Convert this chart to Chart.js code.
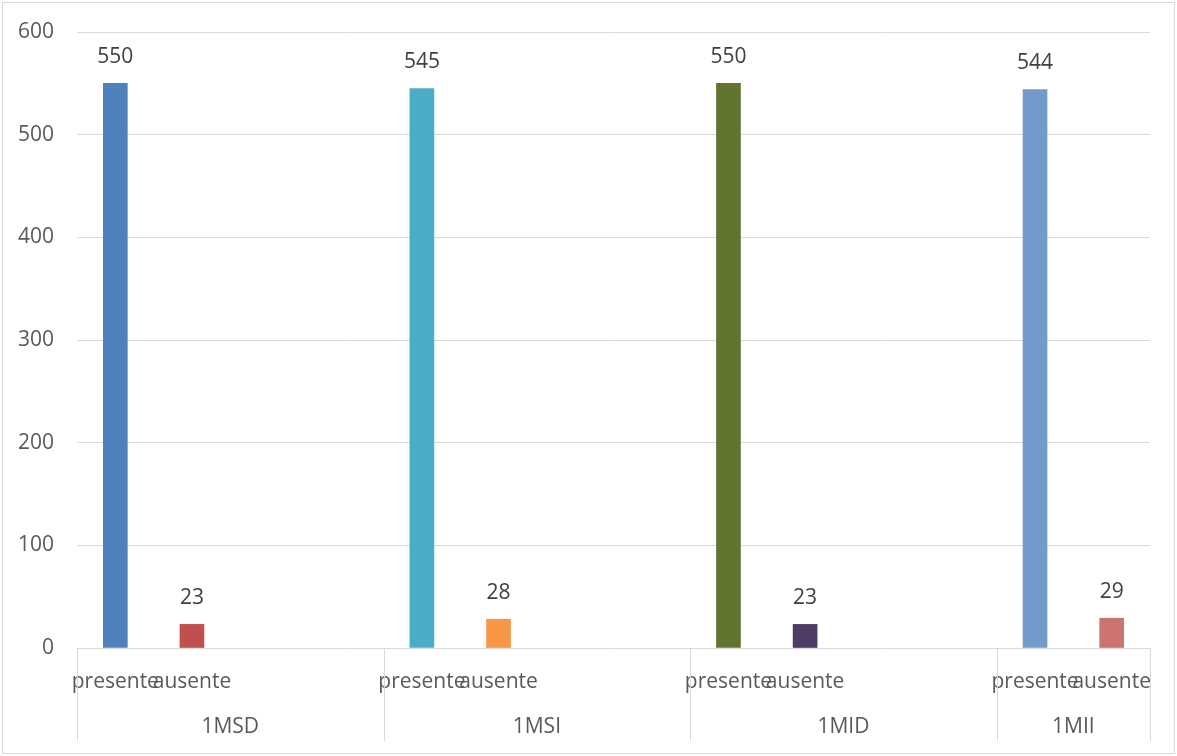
<!DOCTYPE html>
<html>
<head>
<meta charset="utf-8">
<script src="https://cdn.jsdelivr.net/npm/chart.js@4/dist/chart.umd.min.js"></script>
<style>
  html, body { margin: 0; padding: 0; background: #fff; }
  #wrap { width: 1177px; height: 756px; position: relative; }
</style>
</head>
<body>
<div id="wrap"><canvas id="c" width="1177" height="756"></canvas></div>
<script>
// Classes (outer category level) and how many slots each one occupies on the axis
const groups = ['1MSD', '1MSI', '1MID', '1MII'];
const groupSlots = [4, 4, 4, 2];
// Attendance counts per class
const presente = [550, 545, 550, 544];
const ausente = [23, 28, 23, 29];
// Inner category labels
const subLabels = ['presente', 'ausente'];
// Bar colours, one pair per class
const presenteColors = ['#4F81BD', '#4BACC6', '#617430', '#729ACA'];
const ausenteColors = ['#C0504D', '#F79646', '#4E3B66', '#CD7371'];
// Value axis ticks
const yTicks = [0, 100, 200, 300, 400, 500, 600];

// Flatten into axis slots: presente, ausente, then empty slots
const labels = [], values = [], colors = [];
groups.forEach((g, gi) => {
  for (let s = 0; s < groupSlots[gi]; s++) {
    if (s === 0) { labels.push(subLabels[0]); values.push(presente[gi]); colors.push(presenteColors[gi]); }
    else if (s === 1) { labels.push(subLabels[1]); values.push(ausente[gi]); colors.push(ausenteColors[gi]); }
    else { labels.push(''); values.push(null); colors.push('rgba(0,0,0,0)'); }
  }
});

const FONT = '"Open Sans", "DejaVu Sans", sans-serif';
const FSIZE = 21;
const PLOT_TOP = 32;

// Pin the plot area's top edge so the 600 gridline sits at a fixed height
const pinTop = {
  id: 'pinTop',
  afterLayout(chart) {
    const y = chart.scales.y;
    if (Math.abs(y.top - PLOT_TOP) > 0.1) {
      y.top = PLOT_TOP;
      y.height = y.bottom - y.top;
      chart.chartArea.top = PLOT_TOP;
      chart.chartArea.height = chart.chartArea.bottom - PLOT_TOP;
      y.configure();
    }
  }
};

const decorations = {
  id: 'decorations',
  afterDatasetsDraw(chart) {
    const ctx = chart.ctx;
    const x = chart.scales.x, area = chart.chartArea;
    const meta = chart.getDatasetMeta(0);
    ctx.save();
    // value labels above bars
    ctx.font = FSIZE + 'px ' + FONT;
    ctx.fillStyle = '#404040';
    ctx.textAlign = 'center';
    ctx.textBaseline = 'middle';
    meta.data.forEach((bar, i) => {
      const v = values[i];
      if (v == null) return;
      ctx.fillText(String(v), bar.x, bar.y - 26);
    });
    // group separators and group labels
    const step = x.getPixelForValue(1) - x.getPixelForValue(0);
    const bounds = [area.left];
    let idx = 0;
    groupSlots.forEach((n, gi) => {
      idx += n;
      bounds.push(gi === groupSlots.length - 1 ? area.right : x.getPixelForValue(idx) - step / 2);
    });
    ctx.strokeStyle = '#D9D9D9';
    ctx.lineWidth = 1;
    bounds.forEach(b => {
      const bx = Math.round(b) + 0.5;
      ctx.beginPath();
      ctx.moveTo(bx, area.bottom);
      ctx.lineTo(bx, area.bottom + 93);
      ctx.stroke();
    });
    ctx.fillStyle = '#595959';
    groups.forEach((g, gi) => {
      ctx.fillText(g, (bounds[gi] + bounds[gi + 1]) / 2, area.bottom + 79);
    });
    // chart frame
    ctx.strokeStyle = '#D9D9D9';
    ctx.strokeRect(2.5, 2.5, 1172, 751);
    ctx.restore();
  }
};

new Chart(document.getElementById('c'), {
  type: 'bar',
  data: {
    labels: labels,
    datasets: [{
      data: values,
      backgroundColor: colors,
      barThickness: 24,
      borderWidth: 0
    }]
  },
  options: {
    responsive: false,
    animation: false,
    events: [],
    layout: { padding: { top: PLOT_TOP, right: 27, left: 0, bottom: 0 } },
    plugins: { legend: { display: false }, tooltip: { enabled: false } },
    scales: {
      x: {
        grid: { display: false },
        border: { display: false },
        ticks: {
          autoSkip: false,
          maxRotation: 0,
          minRotation: 0,
          padding: 13,
          color: '#595959',
          font: { family: FONT, size: FSIZE }
        },
        afterFit(scale) { scale.height = 108; }
      },
      y: {
        min: 0,
        max: 600,
        afterBuildTicks(scale) { scale.ticks = yTicks.map(v => ({ value: v })); },
        grid: { color: '#D9D9D9', lineWidth: 1, drawTicks: false },
        border: { display: false },
        ticks: {
          padding: 23,
          color: '#595959',
          font: { family: FONT, size: FSIZE }
        },
        afterFit(scale) { scale.width = 77; }
      }
    }
  },
  plugins: [pinTop, decorations]
});
</script>
</body>
</html>
